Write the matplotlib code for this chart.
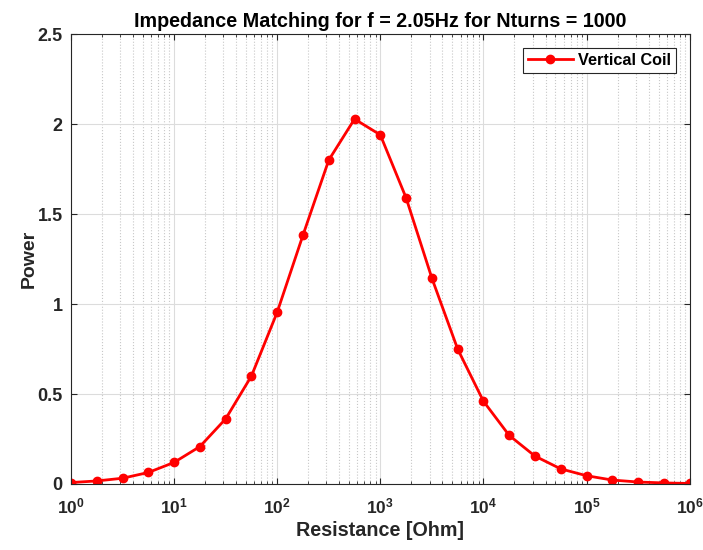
import numpy as np
import matplotlib
matplotlib.use("Agg")
import matplotlib.pyplot as plt

plt.rcParams['font.family'] = ['Liberation Sans', 'DejaVu Sans']
plt.rcParams['font.weight'] = 'bold'
plt.rcParams['mathtext.fontset'] = 'custom'
plt.rcParams['mathtext.rm'] = 'Liberation Sans:bold'
plt.rcParams['mathtext.bf'] = 'Liberation Sans:bold'
plt.rcParams['mathtext.default'] = 'bf'

# Resistencia (Ohm) y potencia
resistencia = [1, 1.778, 3.162, 5.623, 10, 17.78, 31.62, 56.23, 100, 177.8, 316.2,
               562.3, 1000, 1778, 3162, 5623, 1e4, 1.778e4, 3.162e4, 5.623e4,
               1e5, 1.778e5, 3.162e5, 5.623e5, 1e6]
potencia = [0.008, 0.017, 0.032, 0.064, 0.12, 0.208, 0.362, 0.60, 0.955, 1.383, 1.80,
            2.028, 1.94, 1.59, 1.144, 0.75, 0.46, 0.27, 0.155, 0.084,
            0.046, 0.022, 0.011, 0.006, 0.003]
yticks = [0, 0.5, 1, 1.5, 2, 2.5]
ytick_labels = ['0', '0.5', '1', '1.5', '2', '2.5']
xticks = [1, 10, 100, 1e3, 1e4, 1e5, 1e6]
xtick_labels = [r'$10^{%d}$' % i for i in range(7)]

fig = plt.figure(figsize=(7.03, 5.5), dpi=100)
ax = fig.add_axes([0.101, 0.12, 0.880, 0.818])

ax.plot(resistencia, potencia, '-o', color='red', lw=2, ms=6, label='Vertical Coil')
ax.set_xscale('log')
ax.set_xlim(1, 1e6)
ax.set_ylim(0, 2.5)
ax.set_yticks(yticks)
ax.set_yticklabels(ytick_labels)
ax.set_xticks(xticks)
ax.set_xticklabels(xtick_labels)

ax.grid(True, which='major', color='#dcdcdc', lw=0.8)
ax.grid(True, which='minor', axis='x', color='#c8c8c8', ls=':', lw=0.8)
ax.set_axisbelow(True)

for s in ax.spines.values():
    s.set_color('#262626')
ax.tick_params(which='both', direction='in', top=True, right=True, colors='#262626')
ax.tick_params(axis='x', which='major', length=4, labelsize=12.5, pad=9)
ax.tick_params(axis='y', which='major', length=4, labelsize=13, pad=6)
ax.tick_params(which='minor', length=2.5)

ax.set_title('Impedance Matching for f = 2.05Hz for Nturns = 1000', fontsize=14.2,
             fontweight='bold', pad=5)
ax.set_xlabel('Resistance [Ohm]', fontsize=14.2, fontweight='bold', color='#262626',
              labelpad=3)
ax.set_ylabel('Power', fontsize=14, fontweight='bold', color='#262626', labelpad=0)

leg = ax.legend(loc='upper right', fontsize=11.7, fancybox=False, framealpha=1,
                edgecolor='#262626', handlelength=2.8, handletextpad=0.3,
                borderpad=0.3, borderaxespad=0.85)
leg.get_frame().set_linewidth(0.8)

fig.savefig('out.png', dpi=100)
